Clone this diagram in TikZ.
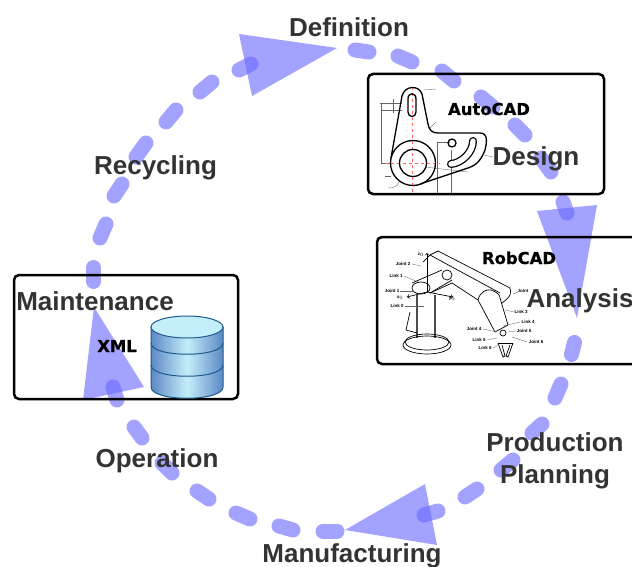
\documentclass[tikz,border=0pt]{standalone}
\usepackage{fontspec}
\setmainfont{Liberation Sans}
\newfontfamily\heavyfont[BoldFeatures={FakeBold=0.7}]{DejaVu Sans}
\usetikzlibrary{shapes, positioning}
\definecolor{ringblue}{RGB}{102,102,255}
\definecolor{dbedge}{RGB}{30,90,140}
\definecolor{dbdark}{RGB}{92,136,196}
\definecolor{dblight}{RGB}{196,238,250}
\tikzstyle{stage} = [text=black!80, font=\bfseries\fontsize{26}{26}\selectfont, text height=18pt, text depth=5pt, inner sep=0pt, align=center]
\tikzstyle{tool} = [text=black, font=\heavyfont\bfseries\fontsize{16.4}{17}\selectfont, inner sep=0pt, anchor=base]
\tikzstyle{framebox} = [rectangle, draw=black, line width=2.5pt, rounded corners=5pt, inner sep=0pt]
\tikzstyle{dashblob} = [line width=15pt, line cap=round, draw=ringblue, opacity=0.6]
\tikzstyle{headtri} = [fill=ringblue, opacity=0.6]
\tikzstyle{thinpart} = [line width=0.35pt, draw=black!60]
\tikzstyle{part} = [line width=1.3pt, draw=black]
\tikzstyle{robot} = [line width=0.7pt, draw=black]
\tikzstyle{tiny} = [font=\bfseries\fontsize{4.5}{5}\selectfont, inner sep=0pt]
\begin{document}
\begin{tikzpicture}[x=1pt, y=-1pt, node distance=100pt]
\clip (0,0) rectangle (632,567);

% ring, clockwise from the top
\draw[dashblob] (355,50) -- (369,52);
\draw[dashblob] (398,56) -- (412,62);
\draw[dashblob] (442,71) -- (454,81);
\draw[dashblob] (481,97) -- (493,107);
\draw[dashblob] (515,125) -- (525,135);
\draw[dashblob] (541,158) -- (551,172);
\draw[dashblob] (563,202) -- (567,213);
\draw[dashblob] (571.5,354.5) -- (574.5,342.5);
\draw[dashblob] (555,398) -- (561,384);
\draw[dashblob] (532,433) -- (542,424);
\draw[dashblob] (501,470) -- (513,460);
\draw[dashblob] (465,497) -- (477,489);
\draw[dashblob] (424,515) -- (438,511);
\draw[dashblob] (323,531) -- (337,531);
\draw[dashblob] (279,526) -- (293,530);
\draw[dashblob] (236,513) -- (250,519);
\draw[dashblob] (197,491) -- (209,499);
\draw[dashblob] (162,463) -- (172,473);
\draw[dashblob] (134,427) -- (142,438);
\draw[dashblob] (113,387) -- (117,400);
\draw[dashblob] (93.5,267.5) -- (93.5,281.5);
\draw[dashblob] (100,238) -- (106,224);
\draw[dashblob] (114,196) -- (122,184);
\draw[dashblob] (136,157) -- (146,143);
\draw[dashblob] (166,122) -- (176,110);
\draw[dashblob] (200,92) -- (212,82);
\draw[dashblob] (239,70) -- (251,64);

% arrow heads of the ring
\fill[headtri] (239,34) -- (337,48) -- (252,96) -- cycle;
\fill[headtri] (537,211) -- (597,205) -- (577,318) -- cycle;
\fill[headtri] (345,530) -- (425,484) -- (437,545) -- cycle;
\fill[headtri] (94,307) -- (144,387) -- (83,400) -- cycle;

% tool boxes
\node (autocadbox) [framebox, minimum width=236pt, minimum height=120pt] at (486,134) {};
\node (robcadbox) [framebox, minimum width=263pt, minimum height=127pt] at (508.5,300.5) {};
\node (xmlbox) [framebox, minimum width=224pt, minimum height=124pt] at (126,337) {};

% drawing of the part
\draw[thinpart] (380,103) -- (402,103);
\draw[thinpart] (381,110) -- (402,110);
\draw[thinpart] (381,103) -- (381,163) -- (391,163);
\draw[thinpart] (393,99) -- (393,113);
\draw[thinpart] (437,193) -- (437,142) -- (450,142);
\draw[thinpart] (451,193) -- (451,150);
\draw[thinpart] (425,167) -- (468,172);
\draw[thinpart] (484,155) -- (493,157);
\draw[thinpart] (424,90) -- (436,89);
\draw[thinpart] (430,128) -- (436,122);
\draw[thinpart] (388,188) .. controls (395,188) and (397,186) .. (399,182);
\draw[thinpart] (385,176) -- (391,176);
\draw[thinpart, draw=red!60, dashed] (412,87) -- (412,193);
\draw[thinpart, draw=red!60, dashed] (385,163) -- (440,163);
\draw[part] (402,96) .. controls (405,85) and (419,85) .. (422,94) -- (428,124) .. controls (429,130) and (432,133) .. (438,133) -- (480,133) .. controls (488,133) and (487,142) .. (485,150) .. controls (481,160) and (477,165) .. (468,168) -- (420,184);
\draw[part] (402,96) -- (391,158);
\draw[part] (413,163) circle [radius=22.5pt];
\draw[part] (413,163) circle [radius=13.5pt];
\draw[part] (408,99) .. controls (408,92) and (416,92) .. (416,99) -- (416,112) .. controls (416,118) and (408,118) .. (408,112) -- cycle;
\draw[part] (452,143) circle [radius=4pt];
\draw[line width=8pt, line cap=round, draw=black] (451,164) .. controls (462,163) and (473,152) .. (473,141);
\draw[line width=5.4pt, line cap=round, draw=white] (451,164) .. controls (462,163) and (473,152) .. (473,141);

% drawing of the robot
\draw[robot, line width=1.2pt, draw=black!70] (417,295) -- (417,338);
\draw[robot, line width=1.2pt, draw=black!70] (435,295) -- (435,338);
\draw[robot] (427,342) ellipse [x radius=22pt, y radius=8pt];
\draw[robot] (427,345) ellipse [x radius=24pt, y radius=9pt];
\draw[robot] (410,312) -- (406,330) -- (417,333);
\draw[robot] (421,288) ellipse [x radius=9pt, y radius=6pt];
\draw[robot] (412,283) -- (442,270);
\draw[robot] (430,293) -- (452,280);
\draw[robot] (447,275) ellipse [x radius=5pt, y radius=5pt];
\draw[robot] (423,262) -- (430,255) -- (438,251) -- (510,288) .. controls (512,294) and (510,297) .. (502,303);
\draw[robot] (430,255) -- (500,293);
\draw[robot] (430,293) -- (452,283) -- (478,300) -- (495,332);
\draw[robot] (478,300) .. controls (480,292) and (486,289) .. (491,290) .. controls (497,292) and (500,295) .. (500,298) -- (508,325) -- (495,332);
\draw[robot] (503,333) circle [radius=3pt];
\draw[robot] (498,343) -- (503,357) -- (505,356) -- (502,345);
\draw[robot] (513,343) -- (508,357) -- (506,356) -- (510,345);
\draw[robot] (498,343) -- (513,343);
\draw[robot, ->] (427,292) -- (427,253);
\draw[robot, ->] (427,292) -- (407,297);
\draw[robot, ->] (427,292) -- (453,297);
\draw[thinpart] (412,264) -- (421,266);
\draw[thinpart] (404,276) -- (418,282);
\draw[thinpart] (400,291) -- (414,291);
\draw[thinpart] (405,306) -- (424,306);
\draw[thinpart] (513,294) -- (518,292);
\draw[thinpart] (505,310) -- (514,312);
\draw[thinpart] (503,326) -- (520,322);
\draw[thinpart] (483,329) -- (497,332);
\draw[thinpart] (508,332) -- (516,331);
\draw[thinpart] (487,340) -- (497,338);
\draw[thinpart] (512,337) -- (527,342);
\draw[thinpart] (493,348) -- (499,345);
\node (jointtwo) [tiny] at (403,264) {Joint 2};
\node (linkone) [tiny] at (396,276) {Link 1};
\node (jointone) [tiny] at (392,291) {Joint 1};
\node (linkzero) [tiny] at (397,306) {Link 0};
\node (zzero) [tiny] at (421,255) {z$_0$};
\node (xzero) [tiny] at (400,298) {x$_0$};
\node (yzero) [tiny] at (452,299) {y$_0$};
\node (jointthree) [tiny] at (523,291) {Joint};
\node (linkthree) [tiny] at (521,312) {Link 3};
\node (linkfour) [tiny] at (528,322) {Link 4};
\node (jointfour) [tiny] at (474,329) {Joint 4};
\node (jointfive) [tiny] at (524,331) {Joint 5};
\node (linkfive) [tiny] at (479,340) {Link 5};
\node (jointsix) [tiny] at (536,342) {Joint 6};
\node (linksix) [tiny] at (485,348) {Link 6};

% database
\draw[dbedge, line width=1pt, left color=dbdark, right color=dbdark, middle color=dblight] (151,327) -- (151,387) .. controls (151,402) and (223,402) .. (223,387) -- (223,327) -- cycle;
\draw[dbedge, line width=1pt, fill=dblight] (187,327) ellipse [x radius=36pt, y radius=11pt];
\draw[dbedge, line width=1pt] (151,343) .. controls (151,358) and (223,358) .. (223,343);
\draw[dbedge, line width=1pt] (151,365) .. controls (151,380) and (223,380) .. (223,365);

% tool names
\node (autocad) [tool] at (489,115) {AutoCAD};
\node (robcad) [tool] at (519,264) {RobCAD};
\node (xml) [tool] at (117,352) {XML};

% life cycle stages
\node (definition) [stage] at (349,30.5) {Definition};
\node (recycling) [stage, below of=definition, xshift=-193.5pt, yshift=-38pt] {Recycling};
\node (maintenance) [stage, below of=recycling, xshift=-60.5pt, yshift=-35pt] {Maintenance};
\node (operation) [stage, below of=maintenance, xshift=62pt, yshift=-57pt] {Operation};
\node (manufacturing) [stage, below of=operation, xshift=195pt, yshift=5pt] {Manufacturing};
\node (design) [stage, below of=definition, xshift=187pt, yshift=-29pt] {Design};
\node (analysis) [stage, below of=design, xshift=44pt, yshift=-41pt] {Analysis};
\node (production) [stage, below of=analysis, xshift=-25pt, yshift=-44pt] {Production};
\node (planning) [stage, below of=production, yshift=68pt] {Planning};
\end{tikzpicture}
\end{document}
